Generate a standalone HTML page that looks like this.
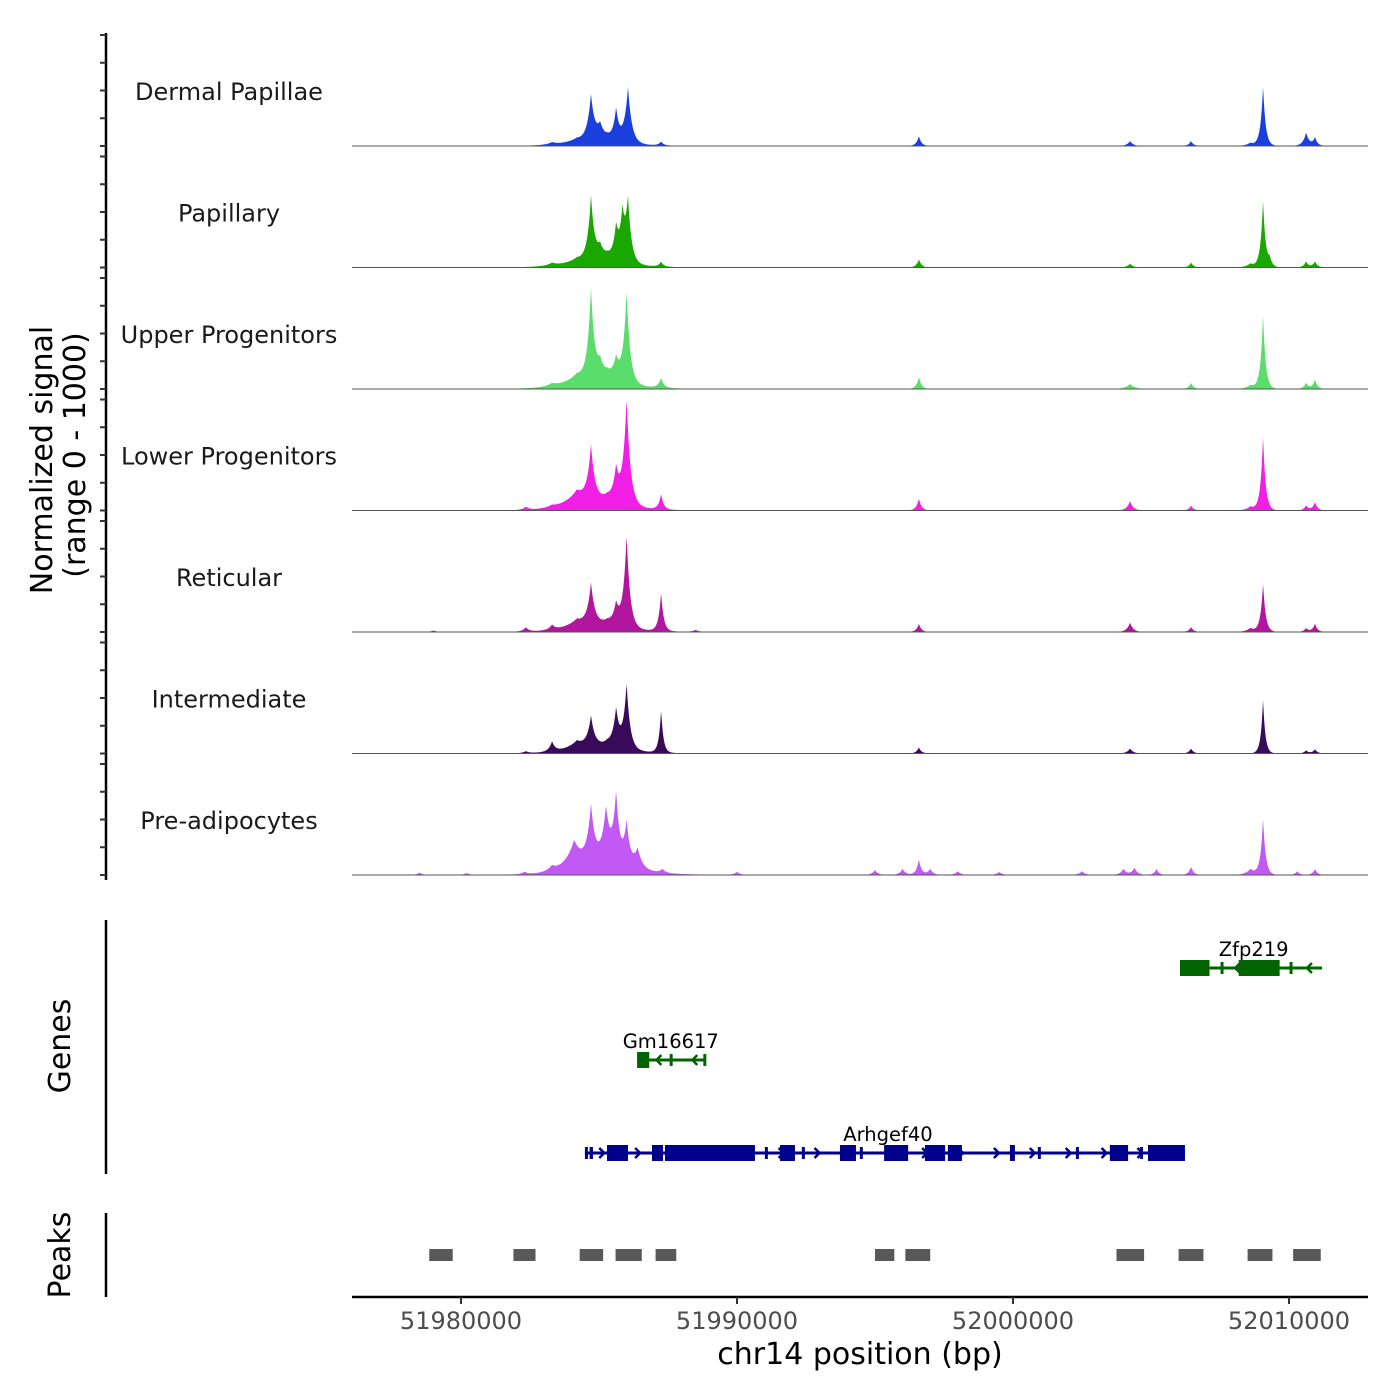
<!DOCTYPE html>
<html><head><meta charset="utf-8"><style>
body{margin:0;background:#fff}
svg{display:block;font-family:"DejaVu Sans","Liberation Sans",sans-serif}
</style></head><body>
<svg id="chart" width="1400" height="1400" viewBox="0 0 1400 1400" xmlns="http://www.w3.org/2000/svg">
<rect width="1400" height="1400" fill="#fff"/>
<g id="tracks"></g>
<g id="yaxis"></g>
<text transform="translate(52,460) rotate(-90)" text-anchor="middle" font-size="30" fill="#000">Normalized signal</text>
<text transform="translate(85,455) rotate(-90)" text-anchor="middle" font-size="30" fill="#000">(range 0 - 1000)</text>
<line x1="106" y1="920" x2="106" y2="1174" stroke="#000" stroke-width="2.5"/>
<text transform="translate(70,1046) rotate(-90)" text-anchor="middle" font-size="30" fill="#000">Genes</text>
<g id="genes"></g>
<line x1="106" y1="1213" x2="106" y2="1297" stroke="#000" stroke-width="2.5"/>
<text transform="translate(70,1255) rotate(-90)" text-anchor="middle" font-size="30" fill="#000">Peaks</text>
<g id="peaks"></g>
<g id="xaxis"></g>
<text x="860" y="1364" text-anchor="middle" font-size="30" fill="#000">chr14 position (bp)</text>
</svg>
<script>
// ---- data ----
const trackNames = ["Dermal Papillae","Papillary","Upper Progenitors","Lower Progenitors","Reticular","Intermediate","Pre-adipocytes"];
const trackColors = ["#1a3fdc","#1aa800","#5bdd6b","#f11fe6","#b0179e","#3a0a5a","#c259f5"];
// peaks: [position bp, height (0-1000), half-width bp]
const dpPeaks = [[51983300,20,150],[51984200,50,500],[51984710,400,120],[51985040,130,150],[51985620,280,100],[51986050,500,120],[51985300,60,700],[51987250,35,80],[51996590,90,80],[52004240,45,100],[52006450,45,80],[52008600,28,150],[52009060,540,80],[52010620,120,100],[52010940,75,80]];
const papPeaks = [[51983300,25,150],[51984200,60,500],[51984710,570,110],[51985040,110,150],[51985620,280,100],[51985850,370,100],[51986050,540,110],[51985300,90,700],[51987250,45,80],[51996590,75,80],[52004240,35,100],[52006450,45,80],[52008600,35,150],[52009060,600,80],[52009300,70,80],[52010620,55,80],[52010940,55,80]];
const upPeaks = [[51983300,25,150],[51984200,100,500],[51984710,800,110],[51985040,130,150],[51985620,180,120],[51986000,820,110],[51985300,120,700],[51987250,90,90],[51996590,110,80],[52004240,45,150],[52006450,55,80],[52008600,35,150],[52009060,670,80],[52010620,55,80],[52010940,85,80]];
const lpPeaks = [[51982350,28,100],[51983300,18,150],[51984200,150,450],[51984710,490,120],[51985620,280,110],[51986000,950,120],[51985300,110,700],[51987250,140,80],[51996590,110,80],[52004240,85,100],[52006450,45,80],[52008600,35,150],[52009060,670,80],[52010620,45,80],[52010940,75,80]];
const retPeaks = [[51979000,14,100],[51982350,38,100],[51983300,45,100],[51984200,90,450],[51984710,370,120],[51985620,180,110],[51986000,830,110],[51985300,90,700],[51987250,350,80],[51988500,18,100],[51996590,75,80],[52004240,85,100],[52006450,45,80],[52008600,35,150],[52009060,440,80],[52010620,35,80],[52010940,75,80]];
const intPeaks = [[51982350,18,100],[51983300,90,100],[51984200,90,400],[51984710,270,120],[51985620,330,110],[51986000,580,110],[51985300,90,700],[51987250,390,70],[51996590,55,80],[52004240,45,100],[52006450,45,80],[52009060,490,70],[52010620,28,80],[52010940,38,80]];
const prePeaks = [[51978500,22,100],[51980200,18,100],[51982300,22,100],[51983300,45,150],[51984100,260,300],[51984710,500,130],[51985250,410,130],[51985620,590,110],[51986000,370,110],[51986400,180,150],[51985300,170,800],[51987300,35,100],[51990000,28,100],[51995000,45,100],[51996000,55,100],[51996590,140,80],[51997000,55,100],[51998000,35,100],[51999500,28,100],[52002500,35,100],[52004000,55,100],[52004400,65,100],[52005200,55,80],[52006450,75,80],[52008600,55,150],[52009060,510,80],[52010300,35,80],[52010940,55,80]];
const trackPeaks = [dpPeaks,papPeaks,upPeaks,lpPeaks,retPeaks,intPeaks,prePeaks];
const xTicks = [51980000,51990000,52000000,52010000];
const xTickLabels = ["51980000","51990000","52000000","52010000"];
const geneNames = ["Zfp219","Gm16617","Arhgef40"];
const geneSpans = [[52006050,52011200],[51986380,51988850],[51984490,52006230]];
const geneColors = ["#006400","#006400","#00008b"];
const geneLabelPos = [52008720,51987600,51995470];
const geneExons = [
 [[52006050,52007120,8],[52007520,52007620,6],[52008180,52009660,8],[52010020,52010080,6]],
 [[51986380,51986820,8],[51987560,51987620,6],[51988780,51988850,6]],
 [[51984490,51984560,6],[51984660,51984780,6],[51985290,51986050,8],[51986920,51987320,8],[51987390,51990650,8],[51991010,51991080,6],[51991560,51992100,8],[51992350,51992420,6],[51993730,51994310,8],[51994450,51994520,6],[51995330,51996200,8],[51996810,51997540,8],[51997640,51998150,8],[51999890,52000070,8],[52000900,52000980,6],[52002280,52002360,6],[52003510,52004170,8],[52004600,52004680,6],[52004890,52006230,8]]
];
const peakRegions = [[51978850,51979700],[51981900,51982700],[51984300,51985150],[51985600,51986550],[51987050,51987800],[51995000,51995700],[51996100,51997000],[52003750,52004750],[52006000,52006900],[52008500,52009400],[52010150,52011150]];

// ---- scales ----
const X0=461, PXB=0.0276;
function xs(v){return X0+(v-51980000)*PXB;}
const TOP0=35, TSTEP=121.5, TH=111;
function ys(i,v){return TOP0+TSTEP*i+TH-(v/1000)*TH;}
const NS="http://www.w3.org/2000/svg";
function mk(tag,attrs,parent){const e=document.createElementNS(NS,tag);for(const k in attrs)e.setAttribute(k,attrs[k]);parent.appendChild(e);return e;}

const tracksG=document.getElementById('tracks');
trackNames.forEach((name,i)=>{
  const g=mk('g',{},tracksG);
  
  
  const peaks=trackPeaks[i];
  const base=ys(i,0);
  let d='M352,'+base;
  for(let px=352;px<=1368;px+=0.5){
    const bp=51980000+(px-X0)/PXB;
    let v=0;
    peaks.forEach(p=>{const t=Math.abs(bp-p[0])/p[2];v+=p[1]*Math.exp(-t*0.85);});
    v=Math.min(v,1000);
    d+=' L'+px+','+ys(i,v).toFixed(2);
  }
  d+=' L1368,'+base+' Z';
  const area=mk('path',{d:d,fill:trackColors[i]},g);
  
  
  const bl=mk('line',{x1:352,y1:base,x2:1368,y2:base,stroke:'#555',"stroke-width":1},g);
  
  
  const lab=mk('text',{x:229,y:TOP0+TSTEP*i+65,"text-anchor":"middle","font-size":24,fill:'#1a1a1a'},g);
  lab.textContent=name;
  
  
});

const yG=document.getElementById('yaxis');
mk('line',{x1:106,y1:33,x2:106,y2:880,stroke:'#000',"stroke-width":2.5},yG);
for(let i=0;i<7;i++){for(let k=0;k<=4;k++){const y=ys(i,k*250);
  const t=mk('line',{x1:100,y1:y,x2:106,y2:y,stroke:'#333',"stroke-width":2},yG);
  
  }}

const gG=document.getElementById('genes');
const geneY=[968,1060,1153];
geneNames.forEach((n,i)=>{
  const g=mk('g',{},gG);
  
  
  const y=geneY[i],c=geneColors[i];
  mk('line',{x1:xs(geneSpans[i][0]),y1:y,x2:xs(geneSpans[i][1]),y2:y,stroke:c,"stroke-width":3},g);
  geneExons[i].forEach(e=>{const x1=xs(e[0]),x2=Math.max(xs(e[1]),x1+3);mk('rect',{x:x1,y:y-e[2],width:x2-x1,height:e[2]*2,fill:c},g);});
  const rev=i<2;
  for(let bp=geneSpans[i][0]+700;bp<geneSpans[i][1]-300;bp+=1300){const x=xs(bp);
    const dx=rev?5:-5;
    mk('path',{d:`M${x+dx},${y-5} L${x},${y} L${x+dx},${y+5}`,stroke:c,fill:'none',"stroke-width":2.5},g);}
  const t=mk('text',{x:xs(geneLabelPos[i]),y:y-12,"text-anchor":"middle","font-size":19.5,fill:'#000'},g);
  t.textContent=n;
});

const pG=document.getElementById('peaks');
peakRegions.forEach(p=>{const r=mk('rect',{x:xs(p[0]),y:1249,width:xs(p[1])-xs(p[0]),height:12,fill:'#595959'},pG);
  
  });

const xG=document.getElementById('xaxis');
mk('line',{x1:352,y1:1297,x2:1368,y2:1297,stroke:'#000',"stroke-width":2.5},xG);
xTicks.forEach((v,i)=>{const x=xs(v);
  mk('line',{x1:x,y1:1297,x2:x,y2:1304,stroke:'#333',"stroke-width":2},xG);
  const t=mk('text',{x:x,y:1329,"text-anchor":"middle","font-size":24,fill:'#4d4d4d'},xG);
  t.textContent=xTickLabels[i];
  
  });
</script>
</body></html>
